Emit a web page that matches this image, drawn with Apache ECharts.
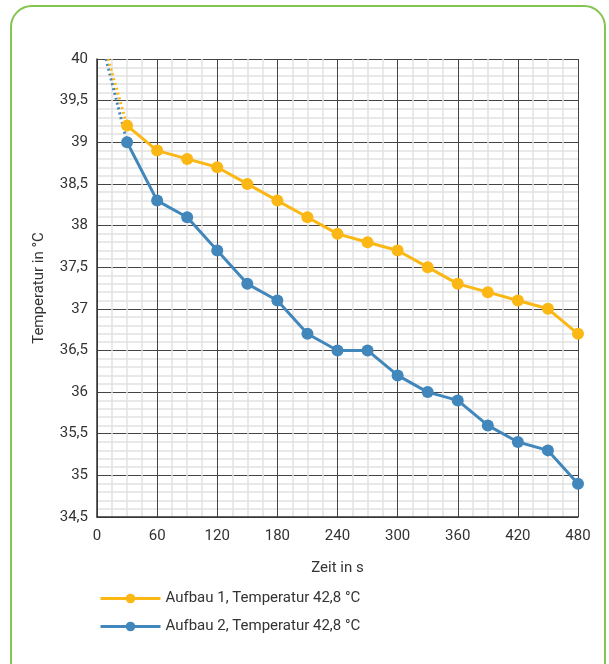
<!DOCTYPE html>
<html>
<head>
<meta charset="utf-8">
<script src="https://cdn.jsdelivr.net/npm/echarts@6/dist/echarts.min.js"></script>
<style>
html,body{margin:0;padding:0;background:#fff;overflow:hidden;}
#frame{position:absolute;left:10px;top:5px;width:596px;height:720px;border:2px solid #84c450;border-radius:22px;box-sizing:border-box;}
#chart{position:absolute;left:0;top:0;width:609px;height:664px;}
</style>
</head>
<body>
<div id="frame"></div>
<div id="chart"></div>
<script>
// Data
var times = [30, 60, 90, 120, 150, 180, 210, 240, 270, 300, 330, 360, 390, 420, 450, 480];
var aufbau1 = [39.2, 38.9, 38.8, 38.7, 38.5, 38.3, 38.1, 37.9, 37.8, 37.7, 37.5, 37.3, 37.2, 37.1, 37.0, 36.7];
var aufbau2 = [39.0, 38.3, 38.1, 37.7, 37.3, 37.1, 36.7, 36.5, 36.5, 36.2, 36.0, 35.9, 35.6, 35.4, 35.3, 34.9];
// dotted extrapolation toward start
var extraTimes1 = [11, 30];
var extra1 = [40.0, 39.2];
var extraTimes2 = [9, 30];
var extra2 = [40.0, 39.0];
var seriesNames = ['Aufbau 1, Temperatur 42,8 °C', 'Aufbau 2, Temperatur 42,8 °C'];
var xLabel = 'Zeit in s';
var yLabel = 'Temperatur in °C';

var yellow = '#fbb714';
var blue = '#4187bb';

function pairs(xs, ys) { return xs.map(function (x, i) { return [x, ys[i]]; }); }

var chart = echarts.init(document.getElementById('chart'), null, { renderer: 'canvas' });
var font = 'Roboto, "Noto Sans", sans-serif';
chart.setOption({
  animation: false,
  textStyle: { fontFamily: font },
  grid: { left: 97, right: 31, top: 59, bottom: 147, containLabel: false },
  legend: {
    data: seriesNames,
    orient: 'vertical',
    left: 94,
    top: 586,
    itemWidth: 60,
    itemHeight: 12,
    itemGap: 13,
    lineStyle: { width: 3 },
    textStyle: { fontSize: 15, color: '#333', fontFamily: font }
  },
  xAxis: {
    type: 'value', min: 0, max: 480, interval: 60,
    name: xLabel, nameLocation: 'middle', nameGap: 44,
    nameTextStyle: { fontSize: 15, color: '#333' },
    axisLine: { show: true, lineStyle: { color: '#333', width: 1.5 } },
    axisTick: { show: false },
    axisLabel: { fontSize: 15, color: '#333', margin: 12 },
    splitLine: { show: true, lineStyle: { color: '#444', width: 1 } },
    minorTick: { show: false, splitNumber: 4 },
    minorSplitLine: { show: true, lineStyle: { color: '#e2e2e2', width: 1.5 } }
  },
  yAxis: {
    type: 'value', min: 34.5, max: 40, interval: 0.5,
    name: yLabel, nameLocation: 'middle', nameGap: 50, nameRotate: 90,
    nameTextStyle: { fontSize: 15, color: '#333' },
    axisLine: { show: true, lineStyle: { color: '#333', width: 1.5 } },
    axisTick: { show: false },
    axisLabel: { fontSize: 15, color: '#333', margin: 9,
      formatter: function (v) { return String(+v.toFixed(1)).replace('.', ','); } },
    splitLine: { show: true, lineStyle: { color: '#444', width: 1 } },
    minorTick: { show: false, splitNumber: 5 },
    minorSplitLine: { show: true, lineStyle: { color: '#e2e2e2', width: 1.5 } }
  },
  series: [
    { name: 'extra2', type: 'line', data: pairs(extraTimes2, extra2), showSymbol: false, symbol: 'none',
      lineStyle: { color: blue, width: 3, type: [2, 3] }, z: 1, silent: true },
    { name: 'extra1', type: 'line', data: pairs(extraTimes1, extra1), showSymbol: false, symbol: 'none',
      lineStyle: { color: yellow, width: 3, type: [2, 3] }, z: 1, silent: true },
    { name: seriesNames[0], type: 'line', data: pairs(times, aufbau1), symbol: 'circle', symbolSize: 12,
      color: yellow, itemStyle: { color: yellow }, lineStyle: { color: yellow, width: 3 }, z: 3 },
    { name: seriesNames[1], type: 'line', data: pairs(times, aufbau2), symbol: 'circle', symbolSize: 12,
      color: blue, itemStyle: { color: blue }, lineStyle: { color: blue, width: 3 }, z: 3 }
  ]
});
</script>
</body>
</html>
